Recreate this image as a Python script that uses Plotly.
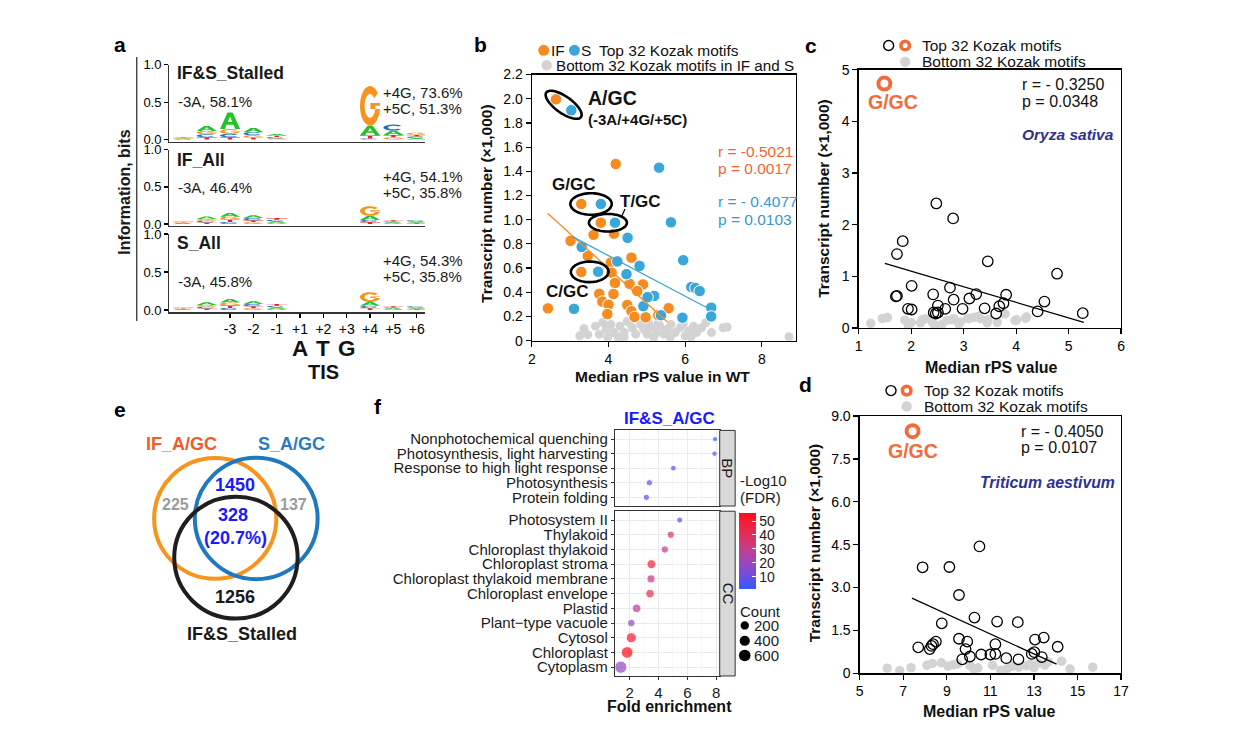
import numpy as np
import plotly.graph_objects as go

W, H = 1239, 743
FONT = "Liberation Sans, Arial, sans-serif"

# ------------------------------------------------------------------ data
# panel a : sequence logos (information, bits) per position and base
logo_positions = ["-5", "-4", "-3", "-2", "-1", "+1", "+2", "+3", "+4", "+5", "+6"]
logo_tick_labels = ["-3", "-2", "-1", "+1", "+2", "+3", "+4", "+5", "+6"]
logo_titles = ["IF&amp;S_Stalled", "IF_All", "S_All"]
logo_m3_text = ["-3A, 58.1%", "-3A, 46.4%", "-3A, 45.8%"]
logo_p4_text = ["+4G, 73.6%", "+4G, 54.1%", "+4G, 54.3%"]
logo_p5_text = ["+5C, 51.3%", "+5C, 35.8%", "+5C, 35.8%"]
stalled_A = [0.008, 0.065, 0.22, 0.055, 0.022, 0, 0, 0, 0.13, 0.06, 0.02]
stalled_C = [0.006, 0.040, 0.045, 0.040, 0.018, 0, 0, 0, 0.015, 0.08, 0.02]
stalled_G = [0.008, 0.045, 0.065, 0.030, 0.015, 0, 0, 0, 0.53, 0.03, 0.03]
stalled_T = [0.008, 0.030, 0.030, 0.028, 0.020, 0, 0, 0, 0.04, 0.03, 0.022]
ifall_A = [0.007, 0.035, 0.050, 0.035, 0.020, 0, 0, 0, 0.055, 0.012, 0.012]
ifall_C = [0.006, 0.022, 0.028, 0.032, 0.020, 0, 0, 0, 0.030, 0.012, 0.016]
ifall_G = [0.008, 0.025, 0.040, 0.025, 0.016, 0, 0, 0, 0.130, 0.010, 0.012]
ifall_T = [0.008, 0.020, 0.030, 0.025, 0.024, 0, 0, 0, 0.025, 0.015, 0.010]
sall_A = [0.007, 0.035, 0.048, 0.035, 0.020, 0, 0, 0, 0.050, 0.012, 0.012]
sall_C = [0.006, 0.022, 0.028, 0.030, 0.020, 0, 0, 0, 0.030, 0.012, 0.016]
sall_G = [0.008, 0.025, 0.040, 0.025, 0.016, 0, 0, 0, 0.130, 0.010, 0.012]
sall_T = [0.008, 0.020, 0.030, 0.025, 0.024, 0, 0, 0, 0.025, 0.015, 0.010]

# panel b : IF and S top 32, bottom 32 (grey)
b_if_x = [2.63, 4.19, 3.29, 3.80, 3.61, 4.14, 3.01, 3.46, 4.60, 4.06, 3.29, 4.08, 4.17, 4.55,
          4.90, 4.75, 3.76, 4.13, 3.84, 4.49, 4.00, 2.42, 4.60, 3.97, 4.68, 4.97, 5.30, 5.57]
b_if_y = [1.995, 1.46, 1.13, 0.975, 0.875, 0.885, 0.825, 0.70, 0.686, 0.645, 0.568, 0.562, 0.477,
          0.47, 0.465, 0.41, 0.387, 0.386, 0.323, 0.295, 0.298, 0.267, 0.243, 0.22, 0.196, 0.193,
          0.21, 0.268]
b_s_x = [3.03, 5.32, 3.80, 4.17, 5.63, 4.50, 3.30, 4.23, 5.95, 4.81, 3.73, 4.47, 6.16, 6.27,
         6.38, 5.19, 4.91, 3.10, 6.68, 6.68, 5.93, 5.37, 5.02]
b_s_y = [1.905, 1.43, 1.13, 0.975, 0.978, 0.85, 0.775, 0.655, 0.665, 0.618, 0.57, 0.55, 0.443,
         0.435, 0.41, 0.37, 0.285, 0.263, 0.273, 0.20, 0.19, 0.21, 0.36]
b_grey_x = [3.25, 3.36, 3.46, 3.66, 3.76, 3.94, 3.98, 4.06, 4.15, 4.30, 4.41, 4.41, 4.49, 4.62,
            4.71, 4.84, 4.92, 5.01, 5.14, 5.18, 5.25, 5.34, 5.44, 5.53, 5.61, 5.63, 5.74, 5.87,
            6.00, 6.09, 6.22, 6.30, 6.43, 6.54, 6.69, 6.99, 7.10, 8.71, 4.55, 5.05, 5.95, 3.85,
            4.25, 5.30, 6.15]
b_grey_y = [0.04, 0.10, 0.05, 0.12, 0.054, 0.094, 0.027, 0.134, 0.067, 0.12, 0.067, 0.027, 0.16,
            0.107, 0.054, 0.134, 0.094, 0.054, 0.107, 0.027, 0.067, 0.12, 0.054, 0.094, 0.027,
            0.134, 0.067, 0.107, 0.04, 0.08, 0.12, 0.067, 0.107, 0.148, 0.067, 0.107, 0.113,
            0.032, 0.15, 0.14, 0.14, 0.15, 0.03, 0.15, 0.03]
b_if_fit_x = [2.41, 5.53]
b_if_fit_y = [1.054, 0.156]
b_s_fit_x = [3.06, 6.56]
b_s_fit_y = [0.86, 0.274]
b_pairs = ["A/GC", "G/GC", "T/GC", "C/GC"]
b_pair_if_idx = [0, 2, 3, 10]
b_pair_s_idx = [0, 2, 3, 10]
b_if_stats = ["r = -0.5021", "p = 0.0017"]
b_s_stats = ["r = - 0.4077", "p = 0.0103"]
b_xticks = [2, 4, 6, 8]
b_yticks = [0, 0.2, 0.4, 0.6, 0.8, 1.0, 1.2, 1.4, 1.6, 1.8, 2.0, 2.2]
b_yticktext = ["0", "0.2", "0.4", "0.6", "0.8", "1.0", "1.2", "1.4", "1.6", "1.8", "2.0", "2.2"]

# panel c : Oryza sativa
c_x = [2.48, 2.80, 1.84, 1.73, 3.46, 4.78, 2.01, 2.74, 2.42, 1.71, 1.73, 2.81, 3.11, 3.24, 3.81,
       4.54, 3.76, 3.68, 2.51, 2.65, 2.98, 3.40, 1.94, 2.01, 2.43, 2.47, 2.51, 3.62, 4.41, 5.27]
c_y = [2.41, 2.12, 1.68, 1.43, 1.29, 1.05, 0.815, 0.78, 0.65, 0.61, 0.62, 0.548, 0.57, 0.656,
       0.643, 0.51, 0.478, 0.42, 0.433, 0.37, 0.37, 0.38, 0.37, 0.357, 0.30, 0.28, 0.30, 0.28,
       0.32, 0.287]
c_ggc_x = [1.49]
c_ggc_y = [4.73]
c_grey_x = [1.23, 1.45, 1.55, 1.88, 1.95, 2.00, 2.18, 2.21, 2.27, 2.39, 2.43, 2.56, 2.58, 2.68,
            2.77, 2.81, 2.91, 2.94, 3.08, 3.10, 3.19, 3.27, 3.32, 3.45, 3.46, 3.64, 3.79, 3.98,
            4.01, 4.18, 4.20]
c_grey_y = [0.09, 0.18, 0.20, 0.15, 0.05, 0.107, 0.10, 0.158, 0.18, 0.139, 0.08, 0.02, 0.063,
            0.146, 0.158, 0.18, 0.076, 0.115, 0.19, 0.18, 0.20, 0.22, 0.18, 0.10, 0.158, 0.107,
            0.27, 0.146, 0.158, 0.19, 0.21]
c_fit_x = [1.50, 5.29]
c_fit_y = [1.25, 0.107]
c_stats = ["r = - 0.3250", "p = 0.0348"]
c_xticks = [1, 2, 3, 4, 5, 6]
c_yticks = [0, 1, 2, 3, 4, 5]

# panel d : Triticum aestivum
d_x = [10.50, 7.89, 9.12, 9.56, 10.27, 11.31, 12.26, 8.77, 9.56, 9.94, 11.23, 13.05, 13.45,
       14.09, 7.69, 8.22, 8.37, 8.50, 8.30, 9.86, 10.06, 9.71, 10.58, 11.00, 11.23, 11.73, 12.29,
       12.90, 13.02, 13.36]
d_y = [4.44, 3.71, 3.72, 2.74, 1.95, 1.81, 1.79, 1.75, 1.21, 1.11, 1.02, 1.18, 1.25, 0.93, 0.91,
       0.85, 1.02, 1.11, 0.96, 0.85, 0.59, 0.49, 0.66, 0.66, 0.68, 0.53, 0.49, 0.68, 0.74, 0.57]
d_ggc_x = [7.43]
d_ggc_y = [8.47]
d_grey_x = [6.27, 6.84, 7.36, 8.09, 8.34, 8.75, 9.06, 9.50, 10.07, 10.43, 11.10, 11.47, 11.78,
            12.31, 12.65, 12.83, 13.20, 13.50, 13.66, 14.27, 14.66, 15.70, 9.30, 10.25, 12.0, 13.0]
d_grey_y = [0.18, 0.10, 0.20, 0.28, 0.345, 0.37, 0.255, 0.33, 0.27, 0.195, 0.28, 0.11, 0.17,
            0.215, 0.27, 0.32, 0.36, 0.285, 0.40, 0.425, 0.15, 0.215, 0.30, 0.15, 0.25, 0.20]
d_fit_x = [7.40, 14.04]
d_fit_y = [2.63, 0.32]
d_stats = ["r = - 0.4050", "p = 0.0107"]
d_xticks = [5, 7, 9, 11, 13, 15, 17]
d_yticks = [0, 1.5, 3.0, 4.5, 6.0, 7.5, 9.0]
d_yticktext = ["0", "1.5", "3.0", "4.5", "6.0", "7.5", "9.0"]

# panel e : Venn counts
venn_sets = ["IF_A/GC", "S_A/GC", "IF&amp;S_Stalled"]
venn_if_only = "225"
venn_s_only = "137"
venn_if_s = "1450"
venn_all = "328"
venn_all_pct = "(20.7%)"
venn_stalled_only = "1256"

# panel f : GO enrichment
bp_terms = ["Nonphotochemical quenching", "Photosynthesis, light harvesting",
            "Response to high light response", "Photosynthesis", "Protein folding"]
bp_fold = [7.93, 7.89, 5.03, 3.37, 3.16]
bp_count = [15, 20, 30, 60, 55]
bp_logfdr = [3, 6, 6, 9, 7]
cc_terms = ["Photosystem II", "Thylakoid", "Chloroplast thylakoid", "Chloroplast stroma",
            "Chloroplast thylakoid membrane", "Chloroplast envelope", "Plastid",
            "Plant\u2212type vacuole", "Cytosol", "Chloroplast", "Cytoplasm"]
cc_fold = [5.47, 4.85, 4.44, 3.51, 3.48, 3.41, 2.48, 2.11, 2.11, 1.82, 1.38]
cc_count = [45, 120, 130, 260, 180, 220, 240, 140, 400, 620, 720]
cc_logfdr = [10, 37, 30, 48, 33, 42, 28, 17, 50, 55, 18]
f_xticks = [2, 4, 6, 8]
f_color_ticks = [10, 20, 30, 40, 50]
f_count_legend = [200, 400, 600]

# ------------------------------------------------------------------ styles
ORANGE = "#F68B1F"
BLUE = "#3BA7D8"
GREY = "#D3D3D3"
REDTXT = "#F26532"
BLUETXT = "#3A96D2"
GGC = "#F26B3A"
SPECIES = "#2E3192"
BASE_COL = {"A": "#22C32A", "C": "#1F6FC0", "G": "#F7931E", "T": "#E4261C"}


def px_x(p):
    return p / W


def px_y(p):
    return 1 - p / H


def dom_x(a, b):
    return [a / W, b / W]


def dom_y(top, bottom):
    return [1 - bottom / H, 1 - top / H]


annotations = []
shapes = []


def text(t, x, y, size=15, color="#111111", bold=False, italic=False, xanchor="center",
         yanchor="middle", angle=0, xref="paper", yref="paper"):
    if bold:
        t = f"<b>{t}</b>"
    if italic:
        t = f"<i>{t}</i>"
    annotations.append(dict(
        text=t, showarrow=False, xref=xref, yref=yref,
        x=px_x(x) if xref == "paper" else x, y=px_y(y) if yref == "paper" else y,
        xanchor=xanchor, yanchor=yanchor, textangle=angle,
        font=dict(size=size, color=color, family=FONT)))


def key_dot(x, y, r, fill, line_color=None, line_width=0):
    shapes.append(dict(type="circle", xref="paper", yref="paper", xsizemode="pixel",
                       ysizemode="pixel", xanchor=px_x(x), yanchor=px_y(y),
                       x0=-r, x1=r, y0=-r, y1=r, fillcolor=fill,
                       line=dict(color=line_color or fill, width=line_width), layer="above"))


def ax(**kw):
    base = dict(showgrid=False, zeroline=False, showline=True, linecolor="#000000",
                linewidth=1.2, ticks="outside", ticklen=5, tickwidth=1.2, tickcolor="#000000",
                tickfont=dict(size=14, color="#000000", family=FONT), fixedrange=True)
    base.update(kw)
    return base


fig = go.Figure()

# ------------------------------------------------------------------ panel a (logos)
def glyph_subpaths(letter):
    if letter == "A":
        return [[(0, 0), (0.37, 1), (0.63, 1), (1, 0), (0.76, 0), (0.67, 0.26), (0.33, 0.26), (0.24, 0)],
                [(0.39, 0.43), (0.61, 0.43), (0.5, 0.76)]]
    if letter == "T":
        return [[(0, 1), (1, 1), (1, 0.8), (0.61, 0.8), (0.61, 0), (0.39, 0), (0.39, 0.8), (0, 0.8)]]
    end = 320 if letter == "C" else 360
    ang = np.radians(np.linspace(40, end, 40))
    outer = [(0.5 + 0.5 * np.cos(a), 0.5 + 0.5 * np.sin(a)) for a in ang]
    inner = [(0.5 + 0.27 * np.cos(a), 0.5 + 0.3 * np.sin(a)) for a in ang[::-1]]
    subs = [outer + inner]
    if letter == "G":
        subs.append([(0.52, 0.42), (1, 0.42), (1, 0.57), (0.52, 0.57)])
    return subs


def letter_path(letter, x0, x1, y0, y1):
    parts = []
    for sub in glyph_subpaths(letter):
        pts = [f"{x0 + u * (x1 - x0):.4f},{y0 + v * (y1 - y0):.5f}" for u, v in sub]
        parts.append("M" + " L".join(pts) + " Z")
    return " ".join(parts)


logo_data = [
    dict(A=stalled_A, C=stalled_C, G=stalled_G, T=stalled_T),
    dict(A=ifall_A, C=ifall_C, G=ifall_G, T=ifall_T),
    dict(A=sall_A, C=sall_C, G=sall_G, T=sall_T),
]
logo_doms = [(58, 136.7), (145, 223), (231, 311)]
layout_axes = {}
for k, (top, bot) in enumerate(logo_doms):
    i = 4 + k
    layout_axes[f"xaxis{i}"] = ax(domain=dom_x(167, 425), range=[-0.6, 10.35], anchor=f"y{i}",
                                  showticklabels=(k == 2), ticks="outside" if k == 2 else "",
                                  tickvals=list(range(2, 11)), ticktext=logo_tick_labels,
                                  ticklen=4, linewidth=1.3, linecolor="#333333")
    layout_axes[f"yaxis{i}"] = ax(domain=dom_y(top, bot), range=[-0.03, 1.0], anchor=f"x{i}",
                                  tickvals=[0, 0.5, 1.0], ticktext=["0.0", "0.5", "1.0"],
                                  ticklen=4, linewidth=1.3, linecolor="#333333",
                                  tickfont=dict(size=13, color="#000000", family=FONT))
    fig.add_trace(go.Scatter(x=[], y=[], xaxis=f"x{i}", yaxis=f"y{i}", showlegend=False))
    d = logo_data[k]
    for pos in range(len(logo_positions)):
        stack = sorted([(d[b][pos], b) for b in "ACGT" if d[b][pos] > 0])
        y0 = 0.0
        for h, b in stack:
            shapes.append(dict(type="path", xref=f"x{i}", yref=f"y{i}",
                               path=letter_path(b, pos - 0.43, pos + 0.43, y0, y0 + h),
                               fillcolor=BASE_COL[b], line=dict(width=0), layer="above"))
            y0 += h

# logo texts
logo_title_y = [66.5, 155, 240]
logo_m3_y = [95.5, 183.5, 279.5]
logo_p4_y = [86, 171.7, 258.3]
for k in range(3):
    text(logo_titles[k], 172.5, logo_title_y[k], size=17.5, bold=True, xanchor="left", color="#1a1a1a")
    text(logo_m3_text[k], 174, logo_m3_y[k], size=15, xanchor="left", color="#1a1a1a")
    text(logo_p4_text[k], 380.5, logo_p4_y[k], size=15, xanchor="left", color="#1a1a1a")
    text(logo_p5_text[k], 380.5, logo_p4_y[k] + 16.5, size=15, xanchor="left", color="#1a1a1a")
shapes.append(dict(type="line", xref="paper", yref="paper", x0=px_x(134), x1=px_x(134),
                   y0=px_y(50), y1=px_y(320), line=dict(color="#444444", width=1.4)))
text("Information, bits", 122, 188, size=16, bold=True, angle=-90, color="#1a1a1a")
for j, base in enumerate(["A", "T", "G"]):
    annotations.append(dict(text=f"<b>{base}</b>", showarrow=False, xref="x6", yref="paper",
                            x=5 + j, y=px_y(348), xanchor="center", yanchor="middle",
                            font=dict(size=22.5, color="#111111", family=FONT)))
annotations.append(dict(text="<b>TIS</b>", showarrow=False, xref="x6", yref="paper", x=6,
                        y=px_y(372.5), xanchor="center", yanchor="middle",
                        font=dict(size=20, color="#111111", family=FONT)))

# ------------------------------------------------------------------ panel b
layout_axes["xaxis"] = ax(domain=dom_x(533, 800), range=[2, 8.9], tickvals=b_xticks, mirror=True, anchor="y")
layout_axes["yaxis"] = ax(domain=dom_y(68, 340), range=[0, 2.2], tickvals=b_yticks,
                          ticktext=b_yticktext, mirror=True, anchor="x")
fig.add_trace(go.Scatter(x=b_grey_x, y=b_grey_y, mode="markers", xaxis="x", yaxis="y",
                         marker=dict(size=9, color=GREY), showlegend=False))
fig.add_trace(go.Scatter(x=b_if_x, y=b_if_y, mode="markers", xaxis="x", yaxis="y",
                         marker=dict(size=11.5, color=ORANGE, line=dict(color="white", width=1)),
                         showlegend=False))
fig.add_trace(go.Scatter(x=b_s_x, y=b_s_y, mode="markers", xaxis="x", yaxis="y",
                         marker=dict(size=11.5, color=BLUE, line=dict(color="white", width=1)),
                         showlegend=False))
fig.add_trace(go.Scatter(x=b_if_fit_x, y=b_if_fit_y, mode="lines", xaxis="x", yaxis="y",
                         line=dict(color=ORANGE, width=1.3), showlegend=False))
fig.add_trace(go.Scatter(x=b_s_fit_x, y=b_s_fit_y, mode="lines", xaxis="x", yaxis="y",
                         line=dict(color=BLUE, width=1.3), showlegend=False))

# ellipses round highlighted pairs (pixel scale of panel b axes)
sx = (800 - 533) / (8.9 - 2)
sy = (340 - 68) / 2.2
ell_style = {"A/GC": (12, 8.5), "G/GC": (11, 11), "T/GC": (12, 9), "C/GC": (10.5, 10.5)}
for name, ii, si in zip(b_pairs, b_pair_if_idx, b_pair_s_idx):
    xa, ya, xb, yb = b_if_x[ii], b_if_y[ii], b_s_x[si], b_s_y[si]
    cx, cy = (xa + xb) / 2, (ya + yb) / 2
    dxp, dyp = (xb - xa) * sx, (yb - ya) * sy
    th = np.arctan2(dyp, dxp)
    pad, minor = ell_style[name]
    a = np.hypot(dxp, dyp) / 2 + pad
    t = np.linspace(0, 2 * np.pi, 73)
    u, v = a * np.cos(t), minor * np.sin(t)
    X = cx + (u * np.cos(th) - v * np.sin(th)) / sx
    Y = cy + (u * np.sin(th) + v * np.cos(th)) / sy
    path = "M" + " L".join(f"{p:.4f},{q:.4f}" for p, q in zip(X, Y)) + " Z"
    shapes.append(dict(type="path", xref="x", yref="y", path=path, line=dict(color="#000000", width=2.6),
                       fillcolor="rgba(0,0,0,0)", layer="above"))
shapes.append(dict(type="line", xref="paper", yref="paper", x0=px_x(627), x1=px_x(623.5),
                   y0=px_y(205.5), y1=px_y(213.5), line=dict(color="#000000", width=1.3)))

text("A/GC", 588, 92, size=19.5, bold=True, xanchor="left", color="#111111")
text("(-3A/+4G/+5C)", 587.5, 113.5, size=15, bold=True, xanchor="left", color="#111111")
text("G/GC", 575, 180, size=17, bold=True, color="#111111")
text("T/GC", 642.5, 197.5, size=17, bold=True, color="#111111")
text("C/GC", 569, 290, size=17, bold=True, color="#111111")
text(b_if_stats[0], 719, 147, size=15.5, color=REDTXT, xanchor="left")
text(b_if_stats[1], 719, 164.5, size=15.5, color=REDTXT, xanchor="left")
text(b_s_stats[0], 719, 198, size=15.5, color=BLUETXT, xanchor="left")
text(b_s_stats[1], 719, 216, size=15.5, color=BLUETXT, xanchor="left")
key_dot(545, 43.3, 5.5, ORANGE)
key_dot(576, 43.3, 5.5, BLUE)
key_dot(548, 58.5, 5.2, GREY)
text("IF", 550.5, 43, size=15.5, xanchor="left", color="#111111")
text("S", 581, 43, size=15.5, xanchor="left", color="#111111")
text("Top 32 Kozak motifs", 599, 43, size=15.5, xanchor="left", color="#111111")
text("Bottom 32 Kozak motifs in IF and S", 555, 59, size=15.2, xanchor="left", color="#111111")
text("Transcript number (×1,000)", 487, 200, size=15.5, bold=True, angle=-90, color="#111111")
text("Median rPS value in WT", 665, 377, size=15.5, bold=True, color="#111111")

# ------------------------------------------------------------------ panels c and d
def species_panel(xa, ya, gx, gy, px_, py_, ox, oy, fx, fy):
    fig.add_trace(go.Scatter(x=gx, y=gy, mode="markers", xaxis=xa, yaxis=ya,
                             marker=dict(size=9.5, color=GREY), showlegend=False))
    fig.add_trace(go.Scatter(x=px_, y=py_, mode="markers", xaxis=xa, yaxis=ya,
                             marker=dict(symbol="circle-open", size=10.5, color="#000000",
                                         line=dict(width=1.3)), showlegend=False))
    fig.add_trace(go.Scatter(x=fx, y=fy, mode="lines", xaxis=xa, yaxis=ya,
                             line=dict(color="#000000", width=1.3), showlegend=False))
    fig.add_trace(go.Scatter(x=ox, y=oy, mode="markers", xaxis=xa, yaxis=ya,
                             marker=dict(symbol="circle-open", size=12, color=GGC,
                                         line=dict(width=4)), showlegend=False))


layout_axes["xaxis2"] = ax(domain=dom_x(863, 1128), range=[1, 6], tickvals=c_xticks, mirror=True, anchor="y2")
layout_axes["yaxis2"] = ax(domain=dom_y(63, 327), range=[0, 5], tickvals=c_yticks, mirror=True, anchor="x2")
species_panel("x2", "y2", c_grey_x, c_grey_y, c_x, c_y, c_ggc_x, c_ggc_y, c_fit_x, c_fit_y)
layout_axes["xaxis3"] = ax(domain=dom_x(864, 1128), range=[5, 17], tickvals=d_xticks, mirror=True, anchor="y3")
layout_axes["yaxis3"] = ax(domain=dom_y(417, 680), range=[0, 9], tickvals=d_yticks,
                           ticktext=d_yticktext, mirror=True, anchor="x3")
species_panel("x3", "y3", d_grey_x, d_grey_y, d_x, d_y, d_ggc_x, d_ggc_y, d_fit_x, d_fit_y)

for (kx, ky, tx, gy_) in [((893.3, 910), 38.3, 925, 55), ((895.7, 911.5), 391, 926.5, 407.3)]:
    key_dot(kx[0], ky, 5, "rgba(0,0,0,0)", "#000000", 1.4)
    key_dot(kx[1], ky, 4.3, "rgba(0,0,0,0)", GGC, 3.6)
    key_dot(kx[1], gy_, 5.2, GREY)
    text("Top 32 Kozak motifs", tx, ky, size=15.5, xanchor="left", color="#111111")
    text("Bottom 32 Kozak motifs", tx, gy_, size=15.5, xanchor="left", color="#111111")

text(c_stats[0], 1026, 78.5, size=16, xanchor="left", color="#111111")
text(c_stats[1], 1026, 95.5, size=16, xanchor="left", color="#111111")
text("Oryza sativa", 1026, 129, size=15.5, bold=True, italic=True, xanchor="left", color=SPECIES)
text("G/GC", 898, 96, size=19.5, bold=True, color=GGC)
text("Transcript number (×1,000)", 828, 194, size=15.5, bold=True, angle=-90, color="#111111")
text("Median rPS value", 997, 367, size=16, bold=True, color="#111111")

text(d_stats[0], 1025, 432.5, size=16, xanchor="left", color="#111111")
text(d_stats[1], 1025, 449.5, size=16, xanchor="left", color="#111111")
text("Triticum aestivum", 984, 484.5, size=15.8, bold=True, italic=True, xanchor="left", color=SPECIES)
text("G/GC", 917.5, 452.5, size=19.5, bold=True, color=GGC)
text("Transcript number (×1,000)", 818, 547, size=15.5, bold=True, angle=-90, color="#111111")
text("Median rPS value", 995, 719, size=16, bold=True, color="#111111")

# ------------------------------------------------------------------ panel e (Venn)
venn_circles = [((213.3, 521.7, 61.7), "#F7941D"), ((254.7, 521.7, 62), "#2079BD"),
                ((234.2, 561.7, 62.3), "#1E1E1E")]
for (cx, cy, r), col in venn_circles:
    shapes.append(dict(type="circle", xref="paper", yref="paper", x0=px_x(cx - r), x1=px_x(cx + r),
                       y0=px_y(cy + r), y1=px_y(cy - r), line=dict(color=col, width=4),
                       fillcolor="rgba(0,0,0,0)"))
text(venn_sets[0], 179, 445.5, size=18, bold=True, color="#F15A29")
text(venn_sets[1], 290, 446, size=18, bold=True, color="#2B7BBF")
text(venn_sets[2], 240, 639.5, size=18, bold=True, color="#1a1a1a")
text(venn_if_only, 173.3, 507.5, size=16, bold=True, color="#9A9A9A")
text(venn_s_only, 292.7, 507.5, size=16, bold=True, color="#9A9A9A")
text(venn_if_s, 233.3, 487.5, size=18, bold=True, color="#1A1AFF")
text(venn_all, 231.7, 518.5, size=18, bold=True, color="#1A1AFF")
text(venn_all_pct, 234, 542, size=18, bold=True, color="#1A1AFF")
text(venn_stalled_only, 233.3, 602, size=18, bold=True, color="#1a1a1a")

# ------------------------------------------------------------------ panel f
def count_size(c):
    return 4 + 8.2 * np.sqrt(np.asarray(c, dtype=float) / 700.0)


f_colorscale = [[0.0, "#2F5BFF"], [0.165, "#6A4FE0"], [0.35, "#9C46BD"], [0.53, "#C43E8A"],
                [0.72, "#E22E5A"], [0.9, "#F81A30"], [1.0, "#FF0A12"]]
fgrid = dict(showgrid=True, gridcolor="#EBEBEB", gridwidth=1)
fminor = dict(tickvals=[3, 5, 7], showgrid=True, gridcolor="#F4F4F4", gridwidth=0.6, ticks="")
ftick = dict(size=15, color="#1a1a1a", family=FONT)
layout_axes["xaxis7"] = ax(domain=dom_x(617.3, 722.7), range=[1.0, 8.25], tickvals=f_xticks,
                           showticklabels=False, ticks="", mirror=True, linecolor="#333333",
                           linewidth=1, anchor="y7", minor=fminor, **fgrid)
layout_axes["yaxis7"] = ax(domain=dom_y(431.7, 509), type="category", categoryorder="array",
                           categoryarray=bp_terms[::-1], range=[-0.6, len(bp_terms) - 0.4],
                           tickmode="array", tickvals=bp_terms, ticktext=bp_terms,
                           mirror=True, linecolor="#333333", linewidth=1, ticklen=3.5, tickwidth=1,
                           tickcolor="#333333", tickfont=ftick, anchor="x7", **fgrid)
layout_axes["xaxis8"] = ax(domain=dom_x(617.3, 722.7), range=[1.0, 8.25], tickvals=f_xticks,
                           mirror=True, linecolor="#333333", linewidth=1, ticklen=3, tickwidth=1,
                           tickcolor="#333333", tickfont=ftick, anchor="y8", minor=fminor, **fgrid)
layout_axes["yaxis8"] = ax(domain=dom_y(514.3, 682.7), type="category", categoryorder="array",
                           categoryarray=cc_terms[::-1], range=[-0.6, len(cc_terms) - 0.4],
                           tickmode="array", tickvals=cc_terms, ticktext=cc_terms,
                           mirror=True, linecolor="#333333", linewidth=1, ticklen=3.5, tickwidth=1,
                           tickcolor="#333333", tickfont=ftick, anchor="x8", **fgrid)
fig.add_trace(go.Scatter(x=bp_fold, y=bp_terms, mode="markers", xaxis="x7", yaxis="y7",
                         marker=dict(size=count_size(bp_count), color=bp_logfdr, coloraxis="coloraxis"),
                         showlegend=False))
fig.add_trace(go.Scatter(x=cc_fold, y=cc_terms, mode="markers", xaxis="x8", yaxis="y8",
                         marker=dict(size=count_size(cc_count), color=cc_logfdr, coloraxis="coloraxis"),
                         showlegend=False))
for (t0, t1, lab, cy) in [(431.7, 509, "BP", 470.3), (514.3, 682.7, "CC", 598.5)]:
    shapes.append(dict(type="rect", xref="paper", yref="paper", x0=px_x(722.7), x1=px_x(738.3),
                       y0=px_y(t1), y1=px_y(t0), fillcolor="#D9D9D9",
                       line=dict(color="#333333", width=1)))
    text(lab, 731, cy, size=15, angle=90, color="#1a1a1a")
text("IF&amp;S_A/GC", 672, 419.5, size=17, bold=True, color="#1A1AFF")
text("Fold enrichment", 672.5, 713.5, size=16, bold=True, color="#111111")
text("-Log10", 741, 483, size=15, xanchor="left", color="#1a1a1a")
text("(FDR)", 741, 500.5, size=15, xanchor="left", color="#1a1a1a")
text("Count", 741.5, 617, size=15, xanchor="left", color="#1a1a1a")
for c, yy in zip(f_count_legend, [631, 646.7, 661.7]):
    key_dot(748, yy, float(count_size(c)) / 2, "#000000")
    text(str(c), 755, yy, size=15, xanchor="left", color="#1a1a1a")

# ------------------------------------------------------------------ panel letters
for lab, x, y in [("a", 117.5, 37), ("b", 481.5, 37.5), ("c", 815, 38.5), ("d", 809, 385),
                  ("e", 117, 410), ("f", 377.5, 407)]:
    text(lab, x, y, size=21, bold=True, color="#000000")

fig.update_layout(
    width=W, height=H, autosize=False, margin=dict(l=0, r=0, t=0, b=0),
    paper_bgcolor="white", plot_bgcolor="white", showlegend=False,
    font=dict(family=FONT, size=14, color="#111111"),
    coloraxis=dict(colorscale=f_colorscale, cmin=1, cmax=55.5,
                   colorbar=dict(x=px_x(741.7), xanchor="left", y=px_y(555.3), yanchor="middle",
                                 len=76, lenmode="pixels", thickness=16.6, thicknessmode="pixels",
                                 xpad=0, ypad=0, outlinewidth=0, tickvals=f_color_ticks,
                                 ticks="inside", ticklen=4, tickcolor="white", tickwidth=1,
                                 tickfont=dict(size=14, color="#1a1a1a", family=FONT),
                                 title=dict(text=""))),
    annotations=annotations, shapes=shapes, **layout_axes)

fig.write_html("out.html", config={"displayModeBar": False, "staticPlot": True},
               post_script="document.body.style.margin='0';document.body.style.overflow='hidden';")
